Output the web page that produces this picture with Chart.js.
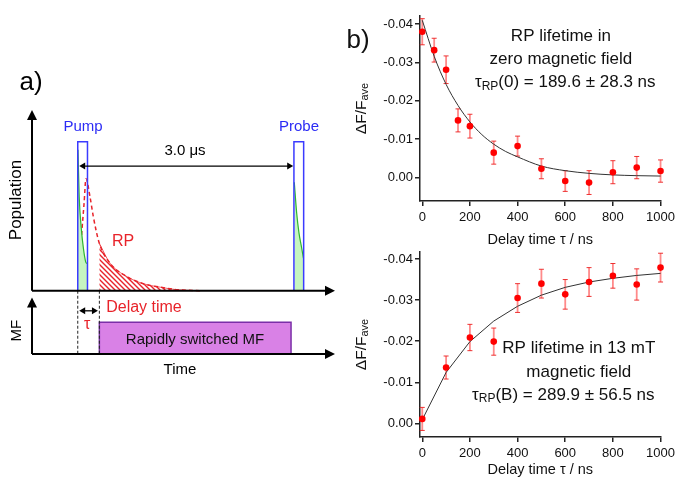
<!DOCTYPE html>
<html>
<head>
<meta charset="utf-8">
<script src="https://cdn.jsdelivr.net/npm/chart.js@4.4.1/dist/chart.umd.min.js"></script>
<style>
  body { margin: 0; background: #fff; }
  #wrap { position: relative; width: 679px; height: 480px; overflow: hidden; }
  canvas { position: absolute; }
</style>
</head>
<body>
<div id="wrap">
  <canvas id="scheme" width="340" height="480" style="left:0;top:0"></canvas>
  <canvas id="zeroField" width="339" height="250" style="left:340px;top:0"></canvas>
  <canvas id="highField" width="339" height="240" style="left:340px;top:240px"></canvas>
</div>
<script>
// ---- panel b, top: zero field ----
const delayZero = [0, 50, 100, 150, 200, 300, 400, 500, 600, 700, 800, 900, 1000];
const signalZero = [-0.0380, -0.0332, -0.0281, -0.0149, -0.0134, -0.0065, -0.0082, -0.0023, 0.0009, 0.0013, -0.0014, -0.0026, -0.0017];
const errorZero = [0.0034, 0.0031, 0.0036, 0.0030, 0.0031, 0.0030, 0.0026, 0.0026, 0.0027, 0.0031, 0.0030, 0.0029, 0.0029];
const fitZeroX = [0, 50, 100, 150, 200, 250, 300, 350, 400, 500, 600, 700, 800, 900, 1000];
const fitZeroY = [-0.0410, -0.0316, -0.0243, -0.0188, -0.0145, -0.0112, -0.0087, -0.0068, -0.0054, -0.0030, -0.0018, -0.0011, -0.0007, -0.0005, -0.0004];

// ---- panel b, bottom: 13 mT ----
const delayField = [0, 100, 200, 300, 400, 500, 600, 700, 800, 900, 1000];
const signalField = [-0.0011, -0.0136, -0.0209, -0.0199, -0.0305, -0.0340, -0.0314, -0.0344, -0.0359, -0.0338, -0.0379];
const errorField = [0.0028, 0.0028, 0.0032, 0.0033, 0.0035, 0.0035, 0.0036, 0.0035, 0.0030, 0.0038, 0.0035];
const fitFieldX = [0, 100, 200, 300, 400, 500, 600, 700, 800, 900, 1000];
const fitFieldY = [-0.0009, -0.0124, -0.0199, -0.0249, -0.0285, -0.0312, -0.0331, -0.0344, -0.0353, -0.0360, -0.0365];

const xTicks = [0, 200, 400, 600, 800, 1000];
const yTicks = [-0.04, -0.03, -0.02, -0.01, 0];

// ---- panel a: schematic (time in us, population in arb. units) ----
const pumpBoxT = [0, 0, 0.135, 0.135];
const pumpBoxY = [0, 0.825, 0.825, 0];
const probeBoxT = [3.0, 3.0, 3.135, 3.135];
const probeBoxY = [0, 0.825, 0.825, 0];
const pumpGreenT = [0.003, 0.02, 0.05, 0.08, 0.11, 0.132];
const pumpGreenY = [0.78, 0.52, 0.34, 0.23, 0.16, 0.15];
const probeGreenT = [3.005, 3.038, 3.07, 3.108, 3.132];
const probeGreenY = [0.60, 0.43, 0.32, 0.235, 0.18];
const rpT = [0, 0.031, 0.059, 0.087, 0.114, 0.17, 0.216, 0.299, 0.447, 0.679, 0.91, 1.14, 1.37, 1.7];
const rpY = [0, 0.19, 0.34, 0.48, 0.62, 0.52, 0.41, 0.263, 0.153, 0.079, 0.039, 0.02, 0.006, 0];
const delayStart = 0.3;
const mfBoxT = [0.3, 2.96];
const mfBoxY = [-0.35, -0.175];

const FONT = "'Liberation Sans', Arial, Helvetica, sans-serif";
Chart.defaults.font.family = FONT;
Chart.defaults.color = '#111';

function pairs(xs, ys) {
  return xs.map((v, i) => ({ x: v, y: ys[i] }));
}

// text with subscripts, centred on x
function drawRich(ctx, parts, x, y) {
  let w = 0;
  parts.forEach(p => { ctx.font = p.size + 'px ' + FONT; w += ctx.measureText(p.t).width; });
  let cx = x - w / 2;
  ctx.textAlign = 'left';
  ctx.textBaseline = 'middle';
  parts.forEach(p => {
    ctx.font = p.size + 'px ' + FONT;
    ctx.fillText(p.t, cx, y + (p.dy || 0));
    cx += ctx.measureText(p.t).width;
  });
}

function decayPlugin(d) {
  return {
    id: 'decay_' + d.key,
    beforeDatasetsDraw(chart) {
      const { ctx, scales: { x, y } } = chart;
      ctx.save();
      d.xs.forEach((xv, i) => {
        const px = x.getPixelForValue(xv);
        const top = y.getPixelForValue(d.ys[i] - d.errs[i]);
        const bot = y.getPixelForValue(d.ys[i] + d.errs[i]);
        ctx.strokeStyle = 'rgba(255, 60, 60, 0.6)';
        ctx.lineWidth = 1.8;
        ctx.beginPath(); ctx.moveTo(px, top); ctx.lineTo(px, bot); ctx.stroke();
        ctx.strokeStyle = 'rgba(235, 30, 30, 0.9)';
        ctx.lineWidth = 1;
        ctx.beginPath();
        ctx.moveTo(px - 2.5, top); ctx.lineTo(px + 2.5, top);
        ctx.moveTo(px - 2.5, bot); ctx.lineTo(px + 2.5, bot);
        ctx.stroke();
      });
      ctx.restore();
    },
    afterDraw(chart) {
      const { ctx, chartArea, scales: { x, y } } = chart;
      ctx.save();
      ctx.fillStyle = '#111';
      // axis titles
      ctx.save();
      ctx.translate(22, (chartArea.top + chartArea.bottom) / 2);
      ctx.rotate(-Math.PI / 2);
      drawRich(ctx, [{ t: 'ΔF/F', size: 15.5 }, { t: 'ave', size: 11, dy: 3 }], 0, 0);
      ctx.restore();
      drawRich(ctx, [{ t: 'Delay time τ / ns', size: 14.5 }], (chartArea.left + chartArea.right) / 2, d.xTitleY);
      // annotation
      d.notes.forEach(n => drawRich(ctx, n.parts, x.getPixelForValue(n.x), y.getPixelForValue(n.y)));
      if (d.letter) drawRich(ctx, [{ t: d.letter, size: 26 }], 18, 41);
      ctx.restore();
    }
  };
}

function makeDecay(id, d) {
  const axisGrid = { drawOnChartArea: false, drawTicks: true, tickLength: 5, color: '#222', lineWidth: 1.5 };
  const axisBorder = { display: true, color: '#222', width: 1.5 };
  return new Chart(document.getElementById(id), {
    type: 'line',
    data: {
      datasets: [
        { data: pairs(d.xs, d.ys), showLine: false, pointRadius: 3.3, pointBackgroundColor: '#ff0000',
          pointBorderColor: '#ff0000', pointBorderWidth: 0, borderColor: '#ff0000', order: 0, clip: false },
        { data: pairs(d.fitX, d.fitY), borderColor: '#333', borderWidth: 1, pointRadius: 0,
          cubicInterpolationMode: d.smooth ? 'monotone' : 'default', tension: 0, order: 1, clip: false }
      ]
    },
    options: {
      responsive: false,
      animation: false,
      events: [],
      layout: { padding: { left: 0, right: 15, top: d.padTop, bottom: 0 } },
      plugins: { legend: { display: false }, tooltip: { enabled: false } },
      scales: {
        x: {
          type: 'linear', min: -9.5, max: 1000,
          afterBuildTicks: s => { s.ticks = xTicks.map(v => ({ value: v })); },
          afterFit: s => { s.height = d.xHeight; },
          ticks: { font: { size: 13 }, color: '#111', padding: 4, maxRotation: 0, callback: v => String(v) },
          grid: axisGrid, border: axisBorder
        },
        y: {
          type: 'linear', reverse: true, min: d.yMin, max: d.yMax,
          afterBuildTicks: s => { s.ticks = yTicks.map(v => ({ value: v })); },
          afterFit: s => { s.width = 80; },
          ticks: { font: { size: 13 }, color: '#111', padding: 2,
            callback: v => (Math.abs(v) < 1e-9 ? '0.00' : v.toFixed(2)) },
          grid: axisGrid, border: axisBorder
        }
      }
    },
    plugins: [decayPlugin(d)]
  });
}

makeDecay('zeroField', {
  key: 'zero', xs: delayZero, ys: signalZero, errs: errorZero, fitX: fitZeroX, fitY: fitZeroY,
  smooth: true, padTop: 16, xHeight: 49, yMin: -0.0421, yMax: 0.0061, xTitleY: 240, letter: 'b)',
  notes: [
    { x: 582, y: -0.0369, parts: [{ t: 'RP lifetime in', size: 17 }] },
    { x: 582, y: -0.0309, parts: [{ t: 'zero magnetic field', size: 17 }] },
    { x: 600, y: -0.0247, parts: [{ t: 'τ', size: 17 }, { t: 'RP', size: 12, dy: 4 }, { t: '(0) = 189.6 ± 28.3 ns', size: 17 }] }
  ]
});

makeDecay('highField', {
  key: 'field', xs: delayField, ys: signalField, errs: errorField, fitX: fitFieldX, fitY: fitFieldY,
  smooth: false, padTop: 12, xHeight: 43, yMin: -0.0417, yMax: 0.0033, xTitleY: 230, letter: null,
  notes: [
    { x: 657, y: -0.0183, parts: [{ t: 'RP lifetime in 13 mT', size: 17 }] },
    { x: 657, y: -0.0125, parts: [{ t: 'magnetic field', size: 17 }] },
    { x: 592, y: -0.0069, parts: [{ t: 'τ', size: 17 }, { t: 'RP', size: 12, dy: 4 }, { t: '(B) = 289.9 ± 56.5 ns', size: 17 }] }
  ]
});

// ---- panel a ----
const schemeArrows = [
  // x1, y1, x2, y2, number of heads, line width
  [-0.635, 0, -0.635, 1.0, 1, 2],
  [-0.635, 0, 3.57, 0, 1, 2],
  [-0.635, -0.35, -0.635, -0.037, 1, 2],
  [-0.635, -0.35, 3.57, -0.35, 1, 2],
  [0.02, 0.69, 2.99, 0.69, 2, 1.3],
  [0.02, -0.111, 0.28, -0.111, 2, 1.3]
];
const schemeText = [
  // text, x, y, size, colour, rotated
  ['a)', -0.649, 1.149, 26, '#000', false],
  ['Population', -0.847, 0.502, 17, '#000', true],
  ['MF', -0.847, -0.221, 15, '#000', true],
  ['Time', 1.419, -0.435, 15, '#000', false],
  ['Pump', 0.073, 0.907, 15, '#2b2bf5', false],
  ['Probe', 3.07, 0.907, 15, '#2b2bf5', false],
  ['3.0 μs', 1.488, 0.775, 15, '#000', false],
  ['RP', 0.628, 0.271, 16, '#e8232a', false],
  ['Delay time', 0.919, -0.092, 16, '#e8232a', false],
  ['τ', 0.132, -0.19, 16, '#e8232a', false],
  ['Rapidly switched MF', 1.627, -0.273, 15, '#111', false]
];

const schemeCanvas = document.getElementById('scheme');
function hatchPattern(target) {
  const s = 5;
  const c = document.createElement('canvas');
  c.width = s; c.height = s;
  const g = c.getContext('2d');
  g.strokeStyle = '#e8232a';
  g.lineWidth = 1.4;
  g.beginPath();
  g.moveTo(0, 0); g.lineTo(s, s);
  g.moveTo(-1, s - 1); g.lineTo(1, s + 1);
  g.moveTo(s - 1, -1); g.lineTo(s + 1, 1);
  g.stroke();
  return target.getContext('2d').createPattern(c, 'repeat');
}

function arrowHead(ctx, x, y, ang, len, half) {
  ctx.save();
  ctx.translate(x, y);
  ctx.rotate(ang);
  ctx.beginPath();
  ctx.moveTo(0, 0);
  ctx.lineTo(-len, -half);
  ctx.lineTo(-len, half);
  ctx.closePath();
  ctx.fill();
  ctx.restore();
}

const schemePlugin = {
  id: 'schemeDecor',
  afterDatasetsDraw(chart) {
    const { ctx, scales: { x, y } } = chart;
    ctx.save();
    // dashed markers for pump and delay start
    ctx.strokeStyle = '#222';
    ctx.lineWidth = 1;
    ctx.setLineDash([3, 2]);
    [0, delayStart].forEach(t => {
      ctx.beginPath();
      ctx.moveTo(x.getPixelForValue(t), y.getPixelForValue(0));
      ctx.lineTo(x.getPixelForValue(t), y.getPixelForValue(-0.35));
      ctx.stroke();
    });
    ctx.setLineDash([]);
    // arrows and axes
    ctx.strokeStyle = '#000';
    ctx.fillStyle = '#000';
    schemeArrows.forEach(a => {
      const x1 = x.getPixelForValue(a[0]), y1 = y.getPixelForValue(a[1]);
      const x2 = x.getPixelForValue(a[2]), y2 = y.getPixelForValue(a[3]);
      const ang = Math.atan2(y2 - y1, x2 - x1);
      const len = a[5] > 1.5 ? 10 : 6, half = a[5] > 1.5 ? 5 : 3.5;
      const dx = Math.cos(ang) * len * 0.8, dy = Math.sin(ang) * len * 0.8;
      ctx.lineWidth = a[5];
      ctx.beginPath();
      ctx.moveTo(a[4] === 2 ? x1 + dx : x1, a[4] === 2 ? y1 + dy : y1);
      ctx.lineTo(x2 - dx, y2 - dy);
      ctx.stroke();
      arrowHead(ctx, x2, y2, ang, len, half);
      if (a[4] === 2) arrowHead(ctx, x1, y1, ang + Math.PI, len, half);
    });
    // labels
    ctx.textAlign = 'center';
    ctx.textBaseline = 'middle';
    schemeText.forEach(s => {
      ctx.save();
      ctx.translate(x.getPixelForValue(s[1]), y.getPixelForValue(s[2]));
      if (s[5]) ctx.rotate(-Math.PI / 2);
      ctx.font = s[3] + 'px ' + FONT;
      ctx.fillStyle = s[4];
      ctx.fillText(s[0], 0, 0);
      ctx.restore();
    });
    ctx.restore();
  }
};

new Chart(schemeCanvas, {
  type: 'line',
  data: {
    datasets: [
      { data: pairs(pumpBoxT, pumpBoxY), borderColor: '#3b3bff', borderWidth: 1.5, tension: 0, order: 1 },
      { data: pairs(probeBoxT, probeBoxY), borderColor: '#3b3bff', borderWidth: 1.5, tension: 0, order: 1 },
      { data: pairs(pumpGreenT, pumpGreenY), borderColor: '#2fb52f', borderWidth: 1.2, fill: 'origin',
        backgroundColor: '#c6f5c0', cubicInterpolationMode: 'monotone', order: 3 },
      { data: pairs(probeGreenT, probeGreenY), borderColor: '#2fb52f', borderWidth: 1.2, fill: 'origin',
        backgroundColor: '#c6f5c0', cubicInterpolationMode: 'monotone', order: 3 },
      { data: pairs(rpT, rpY), borderColor: '#e8232a', borderWidth: 1.5, borderDash: [4, 3],
        cubicInterpolationMode: 'monotone', order: 4 },
      { data: pairs(rpT.slice(7), rpY.slice(7)), borderColor: 'rgba(232,35,42,0.7)', borderWidth: 1,
        fill: 'origin', backgroundColor: hatchPattern(schemeCanvas), cubicInterpolationMode: 'monotone', order: 5 },
      { data: pairs(mfBoxT, [mfBoxY[1], mfBoxY[1]]), borderWidth: 0, fill: { value: mfBoxY[0] },
        backgroundColor: '#d981e6', order: 6 },
      { data: pairs([mfBoxT[0], mfBoxT[0], mfBoxT[1], mfBoxT[1], mfBoxT[0]], [mfBoxY[0], mfBoxY[1], mfBoxY[1], mfBoxY[0], mfBoxY[0]]),
        borderColor: '#7b2fa8', borderWidth: 1.5, tension: 0, order: 2 }
    ]
  },
  options: {
    responsive: false,
    animation: false,
    events: [],
    elements: { point: { radius: 0 } },
    layout: { padding: { left: 32, right: 5, top: 110, bottom: 126 } },
    plugins: { legend: { display: false }, tooltip: { enabled: false } },
    scales: {
      x: { type: 'linear', display: false, min: -0.635, max: 3.57 },
      y: { type: 'linear', display: false, min: -0.35, max: 1.0 }
    }
  },
  plugins: [schemePlugin]
});
</script>
</body>
</html>
